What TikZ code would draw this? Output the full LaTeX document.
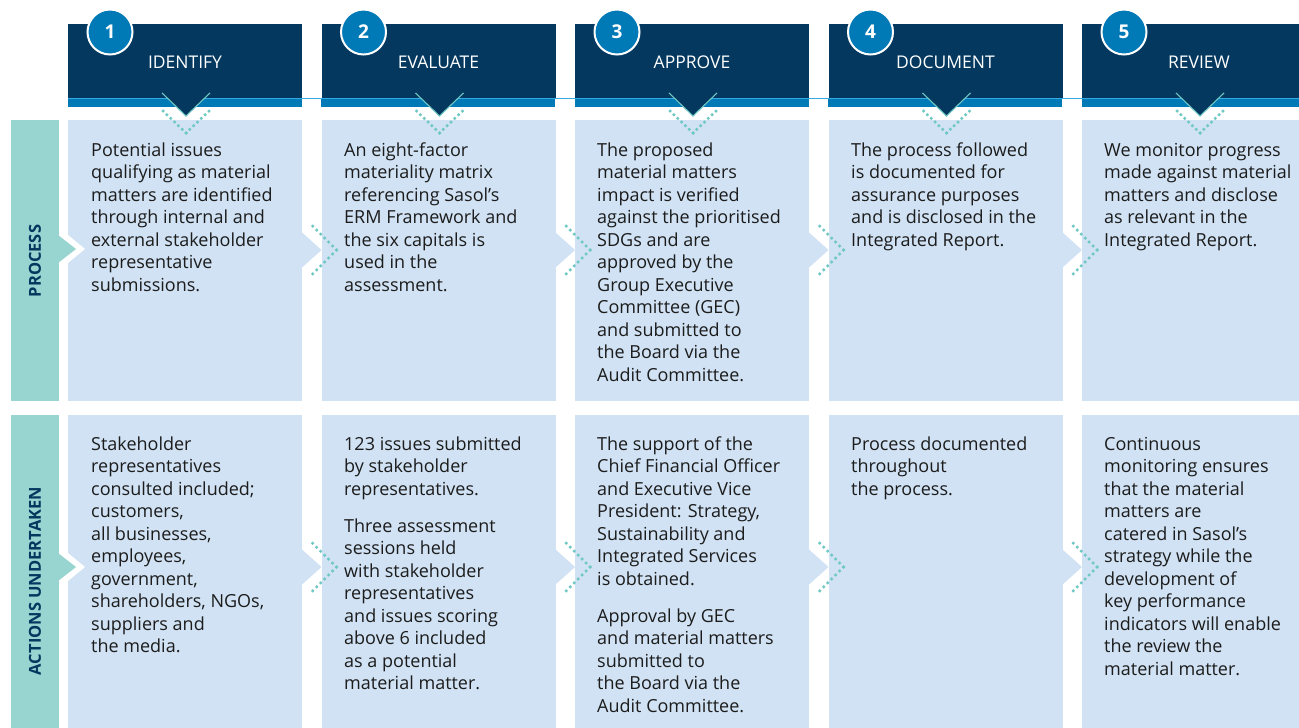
\documentclass[tikz,border=0pt]{standalone}
\usepackage{fontspec}
\setmainfont{Open Sans}
\usetikzlibrary{positioning}

\definecolor{sasolnavy}{RGB}{4,56,95}
\definecolor{sasolblue}{RGB}{0,121,183}
\definecolor{stripeline}{RGB}{52,170,226}
\definecolor{boxblue}{RGB}{208,226,243}
\definecolor{sideteal}{RGB}{152,213,209}
\definecolor{dotteal}{RGB}{112,200,196}
\definecolor{bodytext}{RGB}{28,28,28}

\newcommand{\boxtxt}[1]{\parbox[t]{300pt}{\raggedright #1}}

\tikzset{
  headbox/.style={rectangle, fill=sasolnavy, minimum width=234pt, minimum height=74pt, inner sep=0pt, text=white, font=\fontsize{17.5}{20}\selectfont},
  numcircle/.style={circle, fill=sasolblue, draw=white, line width=2pt, minimum size=45pt, inner sep=0pt, text=white, font=\fontsize{19}{20}\selectfont\bfseries},
  stepbox/.style={rectangle, fill=boxblue, minimum width=234pt, inner sep=0pt},
  sidebar/.style={rectangle, fill=sideteal, minimum width=48pt, inner sep=0pt},
  sidelabel/.style={rotate=90, inner sep=0pt, text=sasolnavy, font=\fontsize{16.5}{18}\selectfont\bfseries},
  bodytxt/.style={anchor=base west, inner sep=0pt, text=bodytext, font=\fontsize{18}{22.5}\selectfont},
  dotline/.style={draw=dotteal, line width=3.5pt, line cap=round, dash pattern=on 0pt off 5.3pt},
}

\begin{document}
\begin{tikzpicture}[x=1pt, y=-1pt]

\useasboundingbox (0,0) rectangle (1299,728);
\clip (0,0) rectangle (1299,728);
\fill[white] (0,0) rectangle (1299,728);

%%%%%%%%%%%%%%%%%%%% Header %%%%%%%%%%%%%%%%%%%%

%step headers
\foreach \index/\name in {1/IDENTIFY, 2/EVALUATE, 3/APPROVE, 4/DOCUMENT, 5/REVIEW}
{
    \pgfmathsetmacro{\colx}{68+(\index-1)*253.5}
    \node[headbox] (h\index) at (\colx+117,61) {\smash{\raisebox{-7pt}{\name}}};
    \fill[sasolblue] (h\index.south west) rectangle ++(234,9);
}

\draw[stripeline, line width=1.3pt] (h1.south west) -- (h5.south east);

%down chevrons and numbers
\foreach \index in {1,...,5}
{
    \pgfmathsetmacro{\midx}{68+(\index-1)*253.5+118}
    \fill[sasolnavy] (\midx-24,93) -- (\midx,116) -- (\midx+24,93) -- cycle;
    \draw[dotteal, line width=1.1pt] (\midx-24,93) -- (\midx,116) -- (\midx+24,93);
    \node[numcircle] (n\index) at (\midx-76,32) {\index};
}

%%%%%%%%%%%%%%%%%%%% Boxes %%%%%%%%%%%%%%%%%%%%

\foreach \index in {1,...,5}
{
    \pgfmathsetmacro{\midx}{68+(\index-1)*253.5+117}
    \node[stepbox, minimum height=281pt] (p\index) at (\midx,260.5) {};
    \node[stepbox, minimum height=313pt] (a\index) at (\midx,571.5) {};
}

%side bars
\node[sidebar, minimum height=281pt] (sp) at (35,260.5) {};
\node[sidebar, minimum height=313pt] (sa) at (35,571.5) {};

\foreach \tipy in {249,567}
{
    \fill[white] (68,\tipy-14) -- (85,\tipy) -- (68,\tipy+14) -- cycle;
    \fill[sideteal] (58,\tipy-14) -- (76,\tipy) -- (58,\tipy+14) -- cycle;
}

\node[sidelabel] (lp) at (35,261) {PROCESS};
\node[sidelabel] (la) at (35,581) {ACTIONS UNDERTAKEN};

%right chevrons between the boxes
\foreach \index in {1,...,4}
{
    \pgfmathsetmacro{\rx}{68+(\index-1)*253.5+234}
    \foreach \tipy in {250,567}
    {
        \fill[boxblue] (\rx,\tipy-17.5) -- (\rx+19.5,\tipy) -- (\rx,\tipy+17.5) -- cycle;
        \draw[dotline, dash pattern=on 0pt off 5.6pt] (\rx+34.5,\tipy) -- (\rx+10.5,\tipy-24);
        \draw[dotline, dash pattern=on 0pt off 5.6pt] (\rx+34.5,\tipy) -- (\rx+10.5,\tipy+24);
    }
}

%dotted chevrons under the headers
\foreach \index in {1,...,5}
{
    \pgfmathsetmacro{\midx}{68+(\index-1)*253.5+118}
    \draw[dotline] (\midx,133) -- (\midx-23,111);
    \draw[dotline] (\midx,133) -- (\midx+23,111);
}

%%%%%%%%%%%%%%%%%%%% Texts %%%%%%%%%%%%%%%%%%%%

%process
\node[bodytxt] (pt1) at (91,156) {\boxtxt{Potential issues\\qualifying as material\\matters are identified\\through internal and\\external stakeholder\\representative\\submissions.}};

\node[bodytxt] (pt2) at (344,156) {\boxtxt{An eight-factor\\materiality matrix\\referencing Sasol’s\\ERM Framework and\\the six capitals is\\used in the\\assessment.}};

\node[bodytxt] (pt3) at (597,156) {\boxtxt{The proposed\\material matters\\impact is verified\\against the prioritised\\SDGs and are\\approved by the\\Group Executive\\Committee (GEC)\\and submitted to\\the Board via the\\Audit Committee.}};

\node[bodytxt] (pt4) at (851,156) {\boxtxt{The process followed\\is documented for\\assurance purposes\\and is disclosed in the\\Integrated Report.}};

\node[bodytxt] (pt5) at (1104,156) {\boxtxt{We monitor progress\\made against material\\matters and disclose\\as relevant in the\\Integrated Report.}};

%actions undertaken
\node[bodytxt] (at1) at (91,450) {\boxtxt{Stakeholder\\representatives\\consulted included;\\customers,\\all businesses,\\employees,\\government,\\shareholders, NGOs,\\suppliers and\\the media.}};

\node[bodytxt] (at2) at (344,450) {\boxtxt{123 issues submitted\\by stakeholder\\representatives.\\[14.5pt]Three assessment\\sessions held\\with stakeholder\\representatives\\and issues scoring\\above 6 included\\as a potential\\material matter.}};

\node[bodytxt] (at3) at (597,450) {\boxtxt{The support of the\\Chief Financial Officer\\and Executive Vice\\President: Strategy,\\Sustainability and\\Integrated Services\\is obtained.\\[14.5pt]Approval by GEC\\and material matters\\submitted to\\the Board via the\\Audit Committee.}};

\node[bodytxt] (at4) at (851,450) {\boxtxt{Process documented\\throughout\\the process.}};

\node[bodytxt] (at5) at (1104,450) {\boxtxt{Continuous\\monitoring ensures\\that the material\\matters are\\catered in Sasol’s\\strategy while the\\development of\\key performance\\indicators will enable\\the review the\\material matter.}};

\end{tikzpicture}
\end{document}
